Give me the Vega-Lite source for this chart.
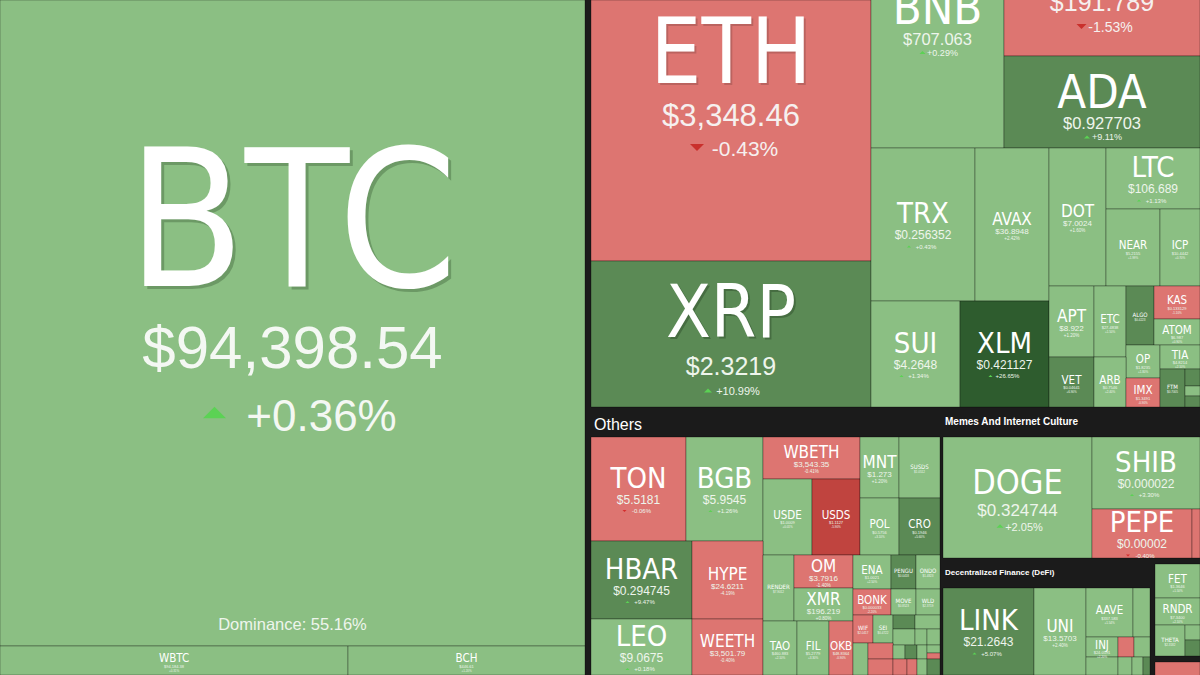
{
  "$schema": "https://vega.github.io/schema/vega-lite/v6.json",
  "width": 1200,
  "height": 675,
  "padding": 0,
  "autosize": {"type": "fit", "contains": "padding"},
  "background": "#1b1b1b",
  "config": {"view": {"stroke": null}, "text": {"font": "Liberation Sans", "baseline": "alphabetic", "align": "center"}},
  "data": {"values": [
    {"s":"BTC","p":"$94,398.54","c":0.36,"tier":"t1","x0":0,"x1":585,"y0":0,"y1":646,"dom":"Dominance: 55.16%"},
    {"s":"WBTC","p":"$94,184.38","c":0.31,"tier":"t8","x0":0,"x1":348,"y0":646,"y1":675},
    {"s":"BCH","p":"$446.61","c":1.2,"tier":"t8","x0":348,"x1":585,"y0":646,"y1":675},
    {"s":"ETH","p":"$3,348.46","c":-0.43,"tier":"t2","x0":591,"x1":871,"y0":0,"y1":261},
    {"s":"XRP","p":"$2.3219","c":10.99,"tier":"t3","x0":591,"x1":871,"y0":261,"y1":407},
    {"s":"BNB","p":"$707.063","c":0.29,"tier":"t4","x0":871,"x1":1004,"y0":-113,"y1":148},
    {"s":"SOL","p":"$191.789","c":-1.53,"tier":"t5","x0":1004,"x1":1200,"y0":-113,"y1":56},
    {"s":"ADA","p":"$0.927703","c":9.11,"tier":"t4","x0":1004,"x1":1200,"y0":56,"y1":148},
    {"s":"TRX","p":"$0.256352","c":0.43,"tier":"t6","x0":871,"x1":975,"y0":148,"y1":301},
    {"s":"AVAX","p":"$36.8948","c":2.42,"tier":"t7","x0":975,"x1":1049,"y0":148,"y1":301},
    {"s":"DOT","p":"$7.0024","c":1.6,"tier":"t7","x0":1049,"x1":1106,"y0":148,"y1":286},
    {"s":"LTC","p":"$106.689","c":1.13,"tier":"t6","x0":1106,"x1":1200,"y0":148,"y1":209},
    {"s":"NEAR","p":"$5.2155","c":1.99,"tier":"t8","x0":1106,"x1":1160,"y0":209,"y1":286},
    {"s":"ICP","p":"$10.4442","c":0.7,"tier":"t8","x0":1160,"x1":1200,"y0":209,"y1":286},
    {"s":"SUI","p":"$4.2648","c":1.34,"tier":"t6","x0":871,"x1":960,"y0":301,"y1":407},
    {"s":"XLM","p":"$0.421127","c":26.65,"tier":"t6","x0":960,"x1":1049,"y0":301,"y1":407},
    {"s":"APT","p":"$8.922","c":1.2,"tier":"t7","x0":1049,"x1":1094,"y0":286,"y1":357},
    {"s":"ETC","p":"$27.4838","c":1.5,"tier":"t8","x0":1094,"x1":1126,"y0":286,"y1":357},
    {"s":"ALGO","p":"$0.4223","c":6.5,"tier":"t9","x0":1126,"x1":1154,"y0":286,"y1":345},
    {"s":"KAS","p":"$0.133129","c":-1.1,"tier":"t8","x0":1154,"x1":1200,"y0":286,"y1":319},
    {"s":"ATOM","p":"$6.987","c":0.9,"tier":"t8","x0":1154,"x1":1200,"y0":319,"y1":345},
    {"s":"OP","p":"$1.8235","c":1.8,"tier":"t8","x0":1126,"x1":1160,"y0":345,"y1":378},
    {"s":"TIA","p":"$4.8214","c":2.1,"tier":"t8","x0":1160,"x1":1200,"y0":345,"y1":369},
    {"s":"VET","p":"$0.04641","c":6.9,"tier":"t8","x0":1049,"x1":1094,"y0":357,"y1":407},
    {"s":"ARB","p":"$0.7546","c":2.4,"tier":"t8","x0":1094,"x1":1126,"y0":357,"y1":407},
    {"s":"IMX","p":"$1.3491","c":-0.9,"tier":"t8","x0":1126,"x1":1160,"y0":378,"y1":407},
    {"s":"FTM","p":"$0.7005","c":6.2,"tier":"t9","x0":1160,"x1":1185,"y0":369,"y1":407},
    {"s":"STX","p":"","c":5.6,"tier":"none","x0":1185,"x1":1200,"y0":369,"y1":386},
    {"s":"GRT","p":"","c":1.0,"tier":"none","x0":1185,"x1":1200,"y0":386,"y1":396},
    {"s":"HNT","p":"","c":5.2,"tier":"none","x0":1185,"x1":1200,"y0":396,"y1":407},
    {"s":"TON","p":"$5.5181","c":-0.06,"tier":"t6","x0":591,"x1":686,"y0":437,"y1":541},
    {"s":"BGB","p":"$5.9545","c":1.26,"tier":"t6","x0":686,"x1":763,"y0":437,"y1":541},
    {"s":"WBETH","p":"$3,543.35","c":-0.41,"tier":"t7","x0":763,"x1":860,"y0":437,"y1":479},
    {"s":"USDE","p":"$1.0009","c":0.01,"tier":"t8","x0":763,"x1":812,"y0":479,"y1":555},
    {"s":"USDS","p":"$1.1127","c":-5.9,"tier":"t8","x0":812,"x1":860,"y0":479,"y1":555},
    {"s":"MNT","p":"$1.273","c":1.2,"tier":"t7","x0":860,"x1":899,"y0":437,"y1":498},
    {"s":"SUSDS","p":"$1.0512","c":0.5,"tier":"t9","x0":899,"x1":940,"y0":437,"y1":498},
    {"s":"POL","p":"$0.5756","c":3.1,"tier":"t8","x0":860,"x1":899,"y0":498,"y1":555},
    {"s":"CRO","p":"$0.1946","c":5.6,"tier":"t8","x0":899,"x1":940,"y0":498,"y1":555},
    {"s":"HBAR","p":"$0.294745","c":9.47,"tier":"t6","x0":591,"x1":692,"y0":541,"y1":619},
    {"s":"HYPE","p":"$24.6211","c":-4.19,"tier":"t7","x0":692,"x1":763,"y0":541,"y1":619},
    {"s":"LEO","p":"$9.0675","c":0.18,"tier":"t6","x0":591,"x1":692,"y0":619,"y1":675},
    {"s":"WEETH","p":"$3,501.79","c":-0.4,"tier":"t7","x0":692,"x1":763,"y0":619,"y1":675},
    {"s":"RENDER","p":"$7.9012","c":2.1,"tier":"t9","x0":763,"x1":794,"y0":555,"y1":621},
    {"s":"OM","p":"$3.7916","c":-1.4,"tier":"t7","x0":794,"x1":853,"y0":555,"y1":588},
    {"s":"XMR","p":"$196.219","c":0.8,"tier":"t7","x0":794,"x1":853,"y0":588,"y1":621},
    {"s":"ENA","p":"$1.0021","c":2.5,"tier":"t8","x0":853,"x1":891,"y0":555,"y1":589},
    {"s":"PENGU","p":"$0.0418","c":7.3,"tier":"t9","x0":891,"x1":916,"y0":555,"y1":589},
    {"s":"ONDO","p":"$1.4823","c":1.8,"tier":"t9","x0":916,"x1":940,"y0":555,"y1":589},
    {"s":"BONK","p":"$0.000033","c":-2.2,"tier":"t8","x0":853,"x1":891,"y0":589,"y1":615},
    {"s":"MOVE","p":"$0.8523","c":3.2,"tier":"t9","x0":891,"x1":916,"y0":589,"y1":615},
    {"s":"WLD","p":"$2.3719","c":2.4,"tier":"t9","x0":916,"x1":940,"y0":589,"y1":615},
    {"s":"TAO","p":"$460.883","c":2.1,"tier":"t8","x0":763,"x1":797,"y0":621,"y1":675},
    {"s":"FIL","p":"$5.2779","c":3.3,"tier":"t8","x0":797,"x1":829,"y0":621,"y1":675},
    {"s":"OKB","p":"$48.8364","c":-0.9,"tier":"t8","x0":829,"x1":853,"y0":621,"y1":675},
    {"s":"WIF","p":"$2.0417","c":-2.6,"tier":"t9","x0":853,"x1":873,"y0":615,"y1":643},
    {"s":"SEI","p":"$0.4722","c":3.0,"tier":"t9","x0":873,"x1":893,"y0":615,"y1":643},
    {"s":"JUP","p":"","c":6.1,"tier":"none","x0":893,"x1":915,"y0":615,"y1":629},
    {"s":"FLR","p":"","c":1.4,"tier":"none","x0":915,"x1":940,"y0":615,"y1":629},
    {"s":"JASMY","p":"","c":0.8,"tier":"none","x0":893,"x1":915,"y0":629,"y1":645},
    {"s":"FLOW","p":"","c":1.1,"tier":"none","x0":915,"x1":927,"y0":629,"y1":645},
    {"s":"EOS","p":"","c":2.2,"tier":"none","x0":927,"x1":940,"y0":629,"y1":645},
    {"s":"XTZ","p":"","c":1.6,"tier":"none","x0":853,"x1":868,"y0":643,"y1":675},
    {"s":"BEAM","p":"","c":-1.2,"tier":"none","x0":868,"x1":893,"y0":643,"y1":659},
    {"s":"BTT","p":"","c":-0.8,"tier":"none","x0":868,"x1":893,"y0":659,"y1":675},
    {"s":"KAIA","p":"","c":0.9,"tier":"none","x0":893,"x1":905,"y0":645,"y1":659},
    {"s":"NEO","p":"","c":5.8,"tier":"none","x0":905,"x1":917,"y0":645,"y1":659},
    {"s":"IOTA","p":"","c":1.3,"tier":"none","x0":917,"x1":927,"y0":645,"y1":659},
    {"s":"CKB","p":"","c":1.0,"tier":"none","x0":927,"x1":940,"y0":645,"y1":653},
    {"s":"SAND","p":"","c":-2.0,"tier":"none","x0":927,"x1":940,"y0":653,"y1":659},
    {"s":"AXS","p":"","c":-1.1,"tier":"none","x0":893,"x1":907,"y0":659,"y1":675},
    {"s":"MANA","p":"","c":-1.7,"tier":"none","x0":907,"x1":917,"y0":659,"y1":675},
    {"s":"EGLD","p":"","c":2.6,"tier":"none","x0":917,"x1":927,"y0":659,"y1":675},
    {"s":"CFX","p":"","c":5.5,"tier":"none","x0":927,"x1":940,"y0":659,"y1":675},
    {"s":"DOGE","p":"$0.324744","c":2.05,"tier":"t6b","x0":943,"x1":1092,"y0":437,"y1":558},
    {"s":"SHIB","p":"$0.000022","c":3.3,"tier":"t6","x0":1092,"x1":1200,"y0":437,"y1":509},
    {"s":"PEPE","p":"$0.00002","c":-0.4,"tier":"t6","x0":1092,"x1":1192,"y0":509,"y1":558},
    {"s":"FLOKI","p":"","c":-1.5,"tier":"none","x0":1192,"x1":1200,"y0":509,"y1":558},
    {"s":"LINK","p":"$21.2643","c":5.07,"tier":"t6","x0":943,"x1":1034,"y0":588,"y1":675},
    {"s":"UNI","p":"$13.5703","c":2.4,"tier":"t7","x0":1034,"x1":1086,"y0":588,"y1":675},
    {"s":"AAVE","p":"$337.583","c":1.54,"tier":"t8","x0":1086,"x1":1133,"y0":588,"y1":637},
    {"s":"MKR","p":"","c":1.2,"tier":"none","x0":1133,"x1":1150,"y0":588,"y1":637},
    {"s":"INJ","p":"$24.0591","c":2.2,"tier":"t8","x0":1086,"x1":1118,"y0":637,"y1":657},
    {"s":"LDO","p":"","c":-1.3,"tier":"none","x0":1118,"x1":1134,"y0":637,"y1":657},
    {"s":"CRV","p":"","c":1.0,"tier":"none","x0":1134,"x1":1150,"y0":637,"y1":657},
    {"s":"ENS","p":"","c":1.4,"tier":"none","x0":1086,"x1":1118,"y0":657,"y1":675},
    {"s":"JTO","p":"","c":1.1,"tier":"none","x0":1118,"x1":1132,"y0":657,"y1":675},
    {"s":"RAY","p":"","c":0.8,"tier":"none","x0":1132,"x1":1143,"y0":657,"y1":675},
    {"s":"PENDLE","p":"","c":5.3,"tier":"none","x0":1143,"x1":1150,"y0":657,"y1":675},
    {"s":"FET","p":"$1.3646","c":1.5,"tier":"t8","x0":1155,"x1":1200,"y0":564,"y1":598},
    {"s":"RNDR","p":"$7.3400","c":2.1,"tier":"t8","x0":1155,"x1":1200,"y0":598,"y1":625},
    {"s":"THETA","p":"$2.3182","c":1.2,"tier":"t9","x0":1155,"x1":1185,"y0":625,"y1":656},
    {"s":"AGIX","p":"","c":1.1,"tier":"none","x0":1185,"x1":1200,"y0":625,"y1":640},
    {"s":"AKT","p":"","c":5.9,"tier":"none","x0":1185,"x1":1200,"y0":640,"y1":656},
    {"s":"GALA","p":"","c":-1.4,"tier":"none","x0":1155,"x1":1200,"y0":662,"y1":680}
  ]},
  "transform": [
    {"calculate": "(datum.x0 + datum.x1) / 2", "as": "cx"},
    {"calculate": "(datum.y0 + datum.y1) / 2", "as": "cy"},
    {"calculate": "(datum.c >= 0 ? '+' : '-') + format(abs(datum.c), '.2f') + '%'", "as": "ct"}
  ],
  "encoding": {
    "x": {"field": "cx", "type": "quantitative", "scale": {"domain": [0, 1200], "nice": false, "zero": false}, "axis": null},
    "y": {"field": "cy", "type": "quantitative", "scale": {"domain": [0, 675], "nice": false, "zero": false, "reverse": true}, "axis": null}
  },
  "layer": [
    {
      "mark": {"type": "rect", "clip": true, "stroke": "#000000", "strokeOpacity": 0.3, "strokeWidth": 1},
      "encoding": {
        "x": {"field": "x0", "type": "quantitative", "scale": {"domain": [0, 1200], "nice": false, "zero": false}, "axis": null},
        "x2": {"field": "x1"},
        "y": {"field": "y0", "type": "quantitative", "scale": {"domain": [0, 675], "nice": false, "zero": false, "reverse": true}, "axis": null},
        "y2": {"field": "y1"},
        "color": {"field": "c", "type": "quantitative", "scale": {"type": "threshold", "domain": [-5, 0, 5, 20], "range": ["#c0443f", "#dd7571", "#8bbf83", "#5b8a55", "#2e5c2e"]}, "legend": null}
      }
    },
    {"data": {"values": [{"g": "Others", "gx": 590, "gy": 410}]},
     "mark": {"type": "text", "align": "left", "baseline": "alphabetic", "dx": 4, "dy": 20, "fontSize": 16, "color": "#ffffff", "font": "Liberation Sans"},
     "encoding": {"x": {"field": "gx", "type": "quantitative"}, "y": {"field": "gy", "type": "quantitative"}, "text": {"field": "g"}}},
    {"data": {"values": [{"g": "Memes And Internet Culture", "gx": 940, "gy": 410}]},
     "mark": {"type": "text", "align": "left", "baseline": "alphabetic", "dx": 5, "dy": 15, "fontSize": 10, "fontWeight": "bold", "color": "#ffffff", "font": "Liberation Sans"},
     "encoding": {"x": {"field": "gx", "type": "quantitative"}, "y": {"field": "gy", "type": "quantitative"}, "text": {"field": "g"}}},
    {"data": {"values": [{"g": "Decentralized Finance (DeFi)", "gx": 940, "gy": 560}]},
     "mark": {"type": "text", "align": "left", "baseline": "alphabetic", "dx": 5, "dy": 15, "fontSize": 8, "fontWeight": "bold", "color": "#ffffff", "font": "Liberation Sans"},
     "encoding": {"x": {"field": "gx", "type": "quantitative"}, "y": {"field": "gy", "type": "quantitative"}, "text": {"field": "g"}}},

    {"transform": [{"filter": "datum.tier == 't1'"}], "mark": {"type": "text", "clip": true, "baseline": "alphabetic", "font": "DejaVu Sans Condensed, Roboto", "fontSize": 190, "dx": 3, "dy": -34.5, "color": "#33552f", "opacity": 0.35}, "encoding": {"text": {"field": "s"}}},
    {"transform": [{"filter": "datum.tier == 't1'"}], "mark": {"type": "text", "clip": true, "baseline": "alphabetic", "font": "DejaVu Sans Condensed, Roboto", "fontSize": 190, "dy": -37.5, "color": "#ffffff"}, "encoding": {"text": {"field": "s"}}},
    {"transform": [{"filter": "datum.tier == 't1'"}], "mark": {"type": "text", "clip": true, "baseline": "alphabetic", "fontSize": 60, "dy": 44.5, "color": "#f4f8f3"}, "encoding": {"text": {"field": "p"}}},
    {"transform": [{"filter": "datum.tier == 't1'"}], "mark": {"type": "text", "clip": true, "baseline": "alphabetic", "fontSize": 44, "dx": 29, "dy": 107.5, "color": "#f4f8f3"}, "encoding": {"text": {"field": "ct"}}},
    {"transform": [{"filter": "datum.tier == 't1'"}], "mark": {"type": "point", "clip": true, "filled": true, "opacity": 1, "size": 529, "xOffset": -78, "yOffset": 89.5},
     "encoding": {"shape": {"condition": {"test": "datum.c >= 0", "value": "M-1,0.5L1,0.5L0,-0.5Z"}, "value": "M-1,-0.5L1,-0.5L0,0.5Z"}, "color": {"condition": {"test": "datum.c >= 0", "value": "#5bd254"}, "value": "#d42c2c"}}},
    {"transform": [{"filter": "datum.tier == 't1'"}], "mark": {"type": "text", "clip": true, "baseline": "alphabetic", "fontSize": 16.5, "dy": 306.5, "color": "#eef5ec"}, "encoding": {"text": {"field": "dom"}}},

    {"transform": [{"filter": "datum.tier == 't2'"}], "mark": {"type": "text", "clip": true, "baseline": "alphabetic", "font": "DejaVu Sans Condensed, Roboto", "fontSize": 90, "dx": 2, "dy": -46, "color": "#6e3a38", "opacity": 0.3}, "encoding": {"text": {"field": "s"}}},
    {"transform": [{"filter": "datum.tier == 't2'"}], "mark": {"type": "text", "clip": true, "baseline": "alphabetic", "font": "DejaVu Sans Condensed, Roboto", "fontSize": 90, "dy": -48, "color": "#ffffff"}, "encoding": {"text": {"field": "s"}}},
    {"transform": [{"filter": "datum.tier == 't2'"}], "mark": {"type": "text", "clip": true, "baseline": "alphabetic", "fontSize": 31, "dy": -5, "color": "#f6f0ef"}, "encoding": {"text": {"field": "p"}}},
    {"transform": [{"filter": "datum.tier == 't2'"}], "mark": {"type": "text", "clip": true, "baseline": "alphabetic", "fontSize": 21, "dx": 14, "dy": 25, "color": "#f6f0ef"}, "encoding": {"text": {"field": "ct"}}},
    {"transform": [{"filter": "datum.tier == 't2'"}], "mark": {"type": "point", "clip": true, "filled": true, "opacity": 1, "size": 196, "xOffset": -34, "yOffset": 17},
     "encoding": {"shape": {"condition": {"test": "datum.c >= 0", "value": "M-1,0.5L1,0.5L0,-0.5Z"}, "value": "M-1,-0.5L1,-0.5L0,0.5Z"}, "color": {"condition": {"test": "datum.c >= 0", "value": "#5bd254"}, "value": "#c9302c"}}},

    {"transform": [{"filter": "datum.tier == 't3'"}], "mark": {"type": "text", "clip": true, "baseline": "alphabetic", "font": "DejaVu Sans Condensed, Roboto", "fontSize": 73, "dx": 2, "dy": 4.5, "color": "#203a1e", "opacity": 0.35}, "encoding": {"text": {"field": "s"}}},
    {"transform": [{"filter": "datum.tier == 't3'"}], "mark": {"type": "text", "clip": true, "baseline": "alphabetic", "font": "DejaVu Sans Condensed, Roboto", "fontSize": 73, "dy": 2.5, "color": "#ffffff"}, "encoding": {"text": {"field": "s"}}},
    {"transform": [{"filter": "datum.tier == 't3'"}], "mark": {"type": "text", "clip": true, "baseline": "alphabetic", "fontSize": 25, "dy": 40.5, "color": "#eef5ec"}, "encoding": {"text": {"field": "p"}}},
    {"transform": [{"filter": "datum.tier == 't3'"}], "mark": {"type": "text", "clip": true, "baseline": "alphabetic", "fontSize": 11, "dx": 7, "dy": 60.5, "color": "#eef5ec"}, "encoding": {"text": {"field": "ct"}}},
    {"transform": [{"filter": "datum.tier == 't3'"}], "mark": {"type": "point", "clip": true, "filled": true, "opacity": 1, "size": 64, "xOffset": -23, "yOffset": 56.5},
     "encoding": {"shape": {"condition": {"test": "datum.c >= 0", "value": "M-1,0.5L1,0.5L0,-0.5Z"}, "value": "M-1,-0.5L1,-0.5L0,0.5Z"}, "color": {"condition": {"test": "datum.c >= 0", "value": "#5bd254"}, "value": "#d42c2c"}}},

    {"transform": [{"filter": "datum.tier == 't4'"}], "mark": {"type": "text", "clip": true, "baseline": "alphabetic", "font": "DejaVu Sans Condensed, Roboto", "fontSize": 47, "dy": 6, "color": "#ffffff"}, "encoding": {"text": {"field": "s"}}},
    {"transform": [{"filter": "datum.tier == 't4'"}], "mark": {"type": "text", "clip": true, "baseline": "alphabetic", "fontSize": 16.5, "dy": 27, "color": "#eef5ec"}, "encoding": {"text": {"field": "p"}}},
    {"transform": [{"filter": "datum.tier == 't4'"}], "mark": {"type": "text", "clip": true, "baseline": "alphabetic", "fontSize": 9, "dx": 5, "dy": 38, "color": "#eef5ec"}, "encoding": {"text": {"field": "ct"}}},
    {"transform": [{"filter": "datum.tier == 't4'"}], "mark": {"type": "point", "clip": true, "filled": true, "opacity": 1, "size": 36, "xOffset": -15, "yOffset": 35},
     "encoding": {"shape": {"condition": {"test": "datum.c >= 0", "value": "M-1,0.5L1,0.5L0,-0.5Z"}, "value": "M-1,-0.5L1,-0.5L0,0.5Z"}, "color": {"condition": {"test": "datum.c >= 0", "value": "#5bd254"}, "value": "#d42c2c"}}},

    {"transform": [{"filter": "datum.tier == 't5'"}], "mark": {"type": "text", "clip": true, "baseline": "alphabetic", "font": "DejaVu Sans Condensed, Roboto", "fontSize": 55, "dy": 9, "color": "#ffffff"}, "encoding": {"text": {"field": "s"}}},
    {"transform": [{"filter": "datum.tier == 't5'"}], "mark": {"type": "text", "clip": true, "baseline": "alphabetic", "fontSize": 25, "dy": 39, "color": "#f6f0ef"}, "encoding": {"text": {"field": "p"}}},
    {"transform": [{"filter": "datum.tier == 't5'"}], "mark": {"type": "text", "clip": true, "baseline": "alphabetic", "fontSize": 14, "dx": 8.5, "dy": 60, "color": "#f6f0ef"}, "encoding": {"text": {"field": "ct"}}},
    {"transform": [{"filter": "datum.tier == 't5'"}], "mark": {"type": "point", "clip": true, "filled": true, "opacity": 1, "size": 100, "xOffset": -20.5, "yOffset": 55},
     "encoding": {"shape": {"condition": {"test": "datum.c >= 0", "value": "M-1,0.5L1,0.5L0,-0.5Z"}, "value": "M-1,-0.5L1,-0.5L0,0.5Z"}, "color": {"condition": {"test": "datum.c >= 0", "value": "#5bd254"}, "value": "#c9302c"}}},

    {"transform": [{"filter": "datum.tier == 't6'"}], "mark": {"type": "text", "clip": true, "baseline": "alphabetic", "font": "DejaVu Sans Condensed, Roboto", "fontSize": 29, "dy": -1.5, "color": "#ffffff"}, "encoding": {"text": {"field": "s"}}},
    {"transform": [{"filter": "datum.tier == 't6'"}], "mark": {"type": "text", "clip": true, "baseline": "alphabetic", "fontSize": 12, "dy": 14.5, "color": "#eef5ec"}, "encoding": {"text": {"field": "p"}}},
    {"transform": [{"filter": "datum.tier == 't6'"}], "mark": {"type": "text", "clip": true, "baseline": "alphabetic", "fontSize": 6, "dx": 3, "dy": 24, "color": "#eef5ec"}, "encoding": {"text": {"field": "ct"}}},
    {"transform": [{"filter": "datum.tier == 't6'"}], "mark": {"type": "point", "clip": true, "filled": true, "opacity": 1, "size": 16, "xOffset": -14, "yOffset": 22},
     "encoding": {"shape": {"condition": {"test": "datum.c >= 0", "value": "M-1,0.5L1,0.5L0,-0.5Z"}, "value": "M-1,-0.5L1,-0.5L0,0.5Z"}, "color": {"condition": {"test": "datum.c >= 0", "value": "#5bd254"}, "value": "#d42c2c"}}},

    {"transform": [{"filter": "datum.tier == 't6b'"}], "mark": {"type": "text", "clip": true, "baseline": "alphabetic", "font": "DejaVu Sans Condensed, Roboto", "fontSize": 34, "dy": -3.5, "color": "#ffffff"}, "encoding": {"text": {"field": "s"}}},
    {"transform": [{"filter": "datum.tier == 't6b'"}], "mark": {"type": "text", "clip": true, "baseline": "alphabetic", "fontSize": 17, "dy": 18.5, "color": "#eef5ec"}, "encoding": {"text": {"field": "p"}}},
    {"transform": [{"filter": "datum.tier == 't6b'"}], "mark": {"type": "text", "clip": true, "baseline": "alphabetic", "fontSize": 11, "dx": 6.5, "dy": 33, "color": "#eef5ec"}, "encoding": {"text": {"field": "ct"}}},
    {"transform": [{"filter": "datum.tier == 't6b'"}], "mark": {"type": "point", "clip": true, "filled": true, "opacity": 1, "size": 49, "xOffset": -17.5, "yOffset": 28.5},
     "encoding": {"shape": {"condition": {"test": "datum.c >= 0", "value": "M-1,0.5L1,0.5L0,-0.5Z"}, "value": "M-1,-0.5L1,-0.5L0,0.5Z"}, "color": {"condition": {"test": "datum.c >= 0", "value": "#5bd254"}, "value": "#d42c2c"}}},

    {"transform": [{"filter": "datum.tier == 't7'"}], "mark": {"type": "text", "clip": true, "baseline": "alphabetic", "font": "DejaVu Sans Condensed, Roboto", "fontSize": 17, "dy": 0, "color": "#ffffff"}, "encoding": {"text": {"field": "s"}}},
    {"transform": [{"filter": "datum.tier == 't7'"}], "mark": {"type": "text", "clip": true, "baseline": "alphabetic", "fontSize": 8, "dy": 9, "color": "#eef5ec"}, "encoding": {"text": {"field": "p"}}},
    {"transform": [{"filter": "datum.tier == 't7'"}], "mark": {"type": "text", "clip": true, "baseline": "alphabetic", "fontSize": 4.5, "dy": 15, "color": "#eef5ec"}, "encoding": {"text": {"field": "ct"}}},

    {"transform": [{"filter": "datum.tier == 't8'"}], "mark": {"type": "text", "clip": true, "baseline": "alphabetic", "font": "DejaVu Sans Condensed, Roboto", "fontSize": 11.5, "dy": 1.5, "color": "#ffffff"}, "encoding": {"text": {"field": "s"}}},
    {"transform": [{"filter": "datum.tier == 't8'"}], "mark": {"type": "text", "clip": true, "baseline": "alphabetic", "fontSize": 4, "dy": 7, "color": "#eef5ec"}, "encoding": {"text": {"field": "p"}}},
    {"transform": [{"filter": "datum.tier == 't8'"}], "mark": {"type": "text", "clip": true, "baseline": "alphabetic", "fontSize": 3, "dy": 11, "color": "#eef5ec"}, "encoding": {"text": {"field": "ct"}}},

    {"transform": [{"filter": "datum.tier == 't9'"}], "mark": {"type": "text", "clip": true, "baseline": "alphabetic", "font": "DejaVu Sans Condensed, Roboto", "fontSize": 6, "dy": 1, "color": "#ffffff"}, "encoding": {"text": {"field": "s"}}},
    {"transform": [{"filter": "datum.tier == 't9'"}], "mark": {"type": "text", "clip": true, "baseline": "alphabetic", "fontSize": 3, "dy": 5, "color": "#eef5ec"}, "encoding": {"text": {"field": "p"}}}
  ]
}
